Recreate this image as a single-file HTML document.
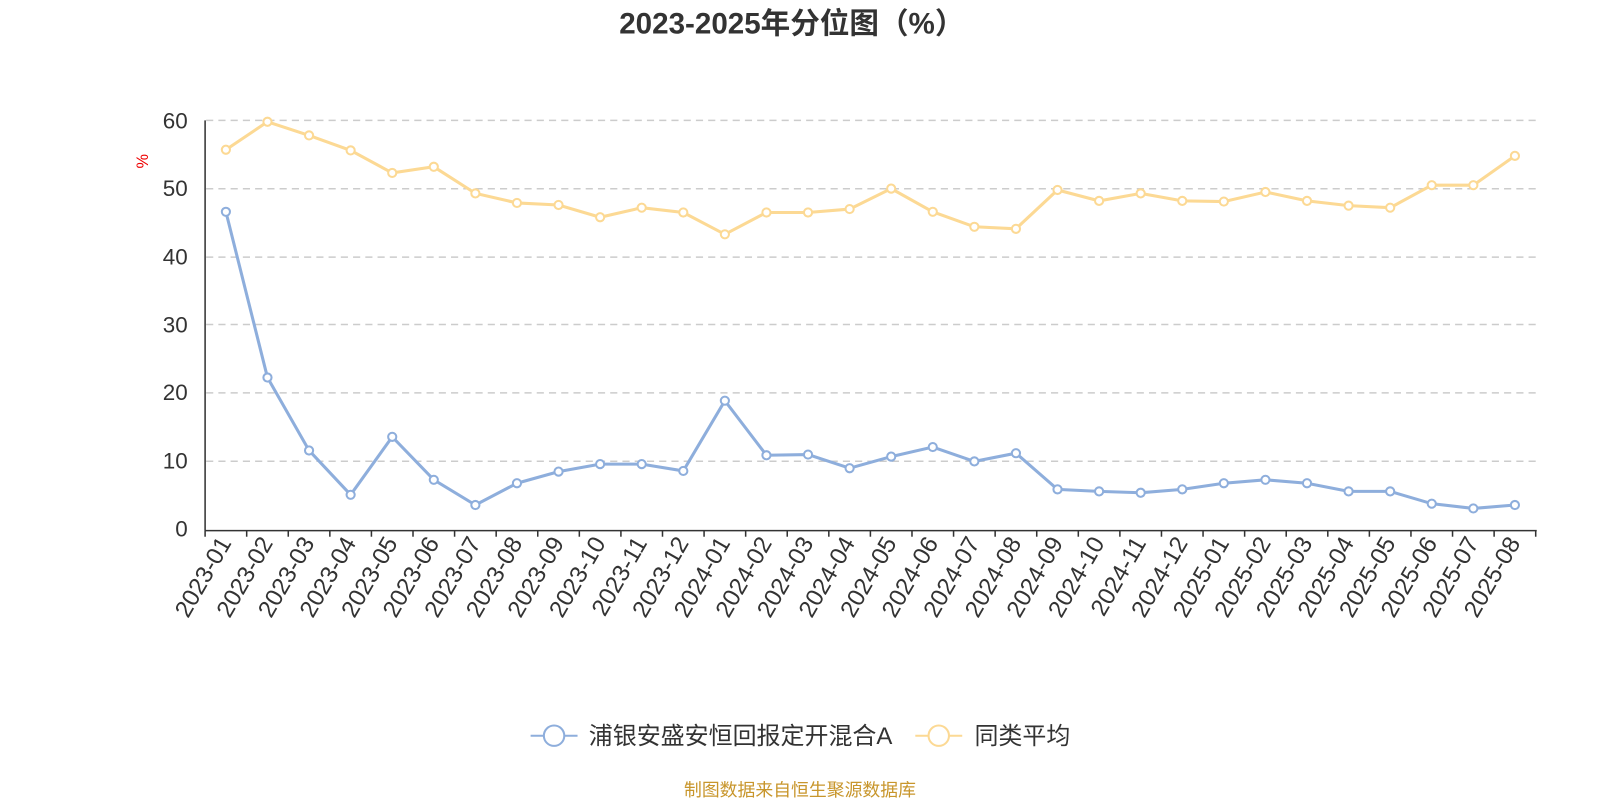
<!DOCTYPE html>
<html><head><meta charset="utf-8"><style>
body{margin:0;background:#fff;width:1600px;height:800px;overflow:hidden;font-family:"Liberation Sans","Noto Sans CJK SC",sans-serif}
svg text{font-family:"Liberation Sans","Noto Sans CJK SC",sans-serif}
</style></head><body>
<svg width="1600" height="800" xmlns="http://www.w3.org/2000/svg">
<g transform="scale(1.0204)">
<text x="776" y="33" text-anchor="middle" font-size="29" font-weight="bold" fill="#333">2023-2025年分位图（%）</text>
<text x="145" y="158" font-size="16" fill="#e00" text-anchor="middle" transform="rotate(-90 145 158)">%</text>
<g stroke="#ccc" stroke-width="1.5" stroke-dasharray="7,5">
<line x1="202" x2="1505" y1="118" y2="118"/><line x1="202" x2="1505" y1="185" y2="185"/><line x1="202" x2="1505" y1="252" y2="252"/><line x1="202" x2="1505" y1="318" y2="318"/><line x1="202" x2="1505" y1="385" y2="385"/><line x1="202" x2="1505" y1="452" y2="452"/>
</g>
<g font-size="22" fill="#333" text-anchor="end">
<text x="184" y="126">60</text><text x="184" y="192">50</text><text x="184" y="259">40</text><text x="184" y="326">30</text><text x="184" y="392">20</text><text x="184" y="459">10</text><text x="184" y="526">0</text>
</g>
<line x1="201" y1="118" x2="201" y2="520" stroke="#333" stroke-width="1.5"/>
<line x1="201" y1="520" x2="1506" y2="520" stroke="#333" stroke-width="1.5"/>
<g id="ticks"></g>
<g id="xl" font-size="23.5" fill="#333" text-anchor="end">
<text>2023-01</text><text>2023-02</text><text>2023-03</text><text>2023-04</text><text>2023-05</text><text>2023-06</text><text>2023-07</text><text>2023-08</text><text>2023-09</text><text>2023-10</text><text>2023-11</text><text>2023-12</text><text>2024-01</text><text>2024-02</text><text>2024-03</text><text>2024-04</text><text>2024-05</text><text>2024-06</text><text>2024-07</text><text>2024-08</text><text>2024-09</text><text>2024-10</text><text>2024-11</text><text>2024-12</text><text>2025-01</text><text>2025-02</text><text>2025-03</text><text>2025-04</text><text>2025-05</text><text>2025-06</text><text>2025-07</text><text>2025-08</text>
</g>
<g id="series"></g>
<line x1="520" y1="721" x2="566" y2="721" stroke="#8eaedc" stroke-width="2"/>
<circle cx="543" cy="721" r="10" fill="#fff" stroke="#8eaedc" stroke-width="2"/>
<text x="577" y="729" font-size="23.5" fill="#333">浦银安盛安恒回报定开混合A</text>
<line x1="897" y1="721" x2="943" y2="721" stroke="#fcd994" stroke-width="2"/>
<circle cx="920" cy="721" r="10" fill="#fff" stroke="#fcd994" stroke-width="2"/>
<text x="955" y="729" font-size="23.5" fill="#333">同类平均</text>
<text x="784" y="780" font-size="17.5" fill="#c8962c" text-anchor="middle">制图数据来自恒生聚源数据库</text>
</g>
</svg>
<script>
var ns="http://www.w3.org/2000/svg",w=(1505-201)/32;
function X(i){return 201+w*(i+0.5)}function Y(v){return 519-v*401/60}
var t=document.getElementById("ticks");
for(var i=0;i<=32;i++){var l=document.createElementNS(ns,"line");var x=201+w*i;l.setAttribute("x1",x);l.setAttribute("x2",x);l.setAttribute("y1",520);l.setAttribute("y2",526);l.setAttribute("stroke","#333");l.setAttribute("stroke-width","1.5");t.appendChild(l);}
var xs=document.getElementById("xl").children;
for(var i=0;i<xs.length;i++){var x=X(i)+6,y=532;xs[i].setAttribute("x",x);xs[i].setAttribute("y",y);xs[i].setAttribute("transform","rotate(-60 "+x+" "+y+")");}
var A=[46.6,22.3,11.6,5.1,13.6,7.3,3.6,6.8,8.5,9.6,9.6,8.6,18.9,10.9,11.0,9.0,10.7,12.1,10.0,11.2,5.9,5.6,5.4,5.9,6.8,7.3,6.8,5.6,5.6,3.8,3.1,3.6];
var B=[55.7,59.8,57.8,55.6,52.3,53.2,49.3,47.9,47.6,45.8,47.2,46.5,43.3,46.5,46.5,47.0,50.0,46.6,44.4,44.1,49.8,48.2,49.3,48.2,48.1,49.5,48.2,47.5,47.2,50.5,50.5,54.8];
var g=document.getElementById("series");
[[B,"#fcd994"],[A,"#8eaedc"]].forEach(function(s){
var p=document.createElementNS(ns,"polyline");p.setAttribute("points",s[0].map(function(v,i){return X(i)+","+Y(v)}).join(" "));p.setAttribute("fill","none");p.setAttribute("stroke",s[1]);p.setAttribute("stroke-width","3");g.appendChild(p);
s[0].forEach(function(v,i){var c=document.createElementNS(ns,"circle");c.setAttribute("cx",X(i));c.setAttribute("cy",Y(v));c.setAttribute("r",4);c.setAttribute("fill","#fff");c.setAttribute("stroke",s[1]);c.setAttribute("stroke-width","2");g.appendChild(c);});});
</script>
</body></html>
